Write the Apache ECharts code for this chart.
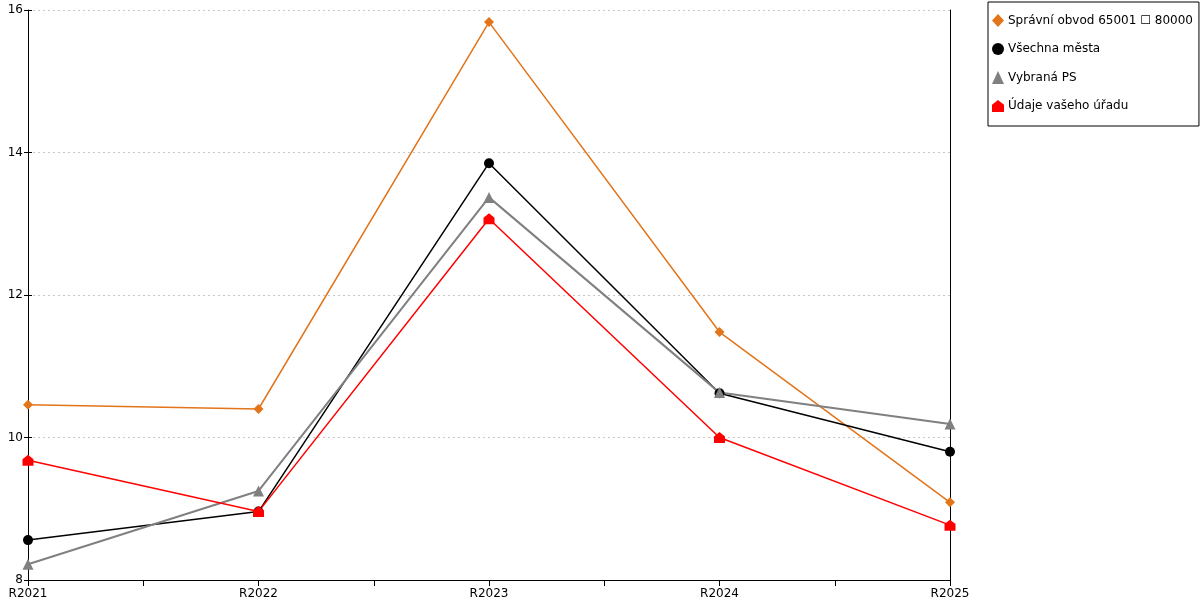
<!DOCTYPE html>
<html lang="cs">
<head>
    <meta charset="UTF-8">
    <title>Graf</title>
    <script src="https://cdn.jsdelivr.net/npm/echarts@6.0.0/dist/echarts.min.js"></script>
    <style>
        body { margin: 0; background: #fff; }
        #chart { width: 1200px; height: 600px; }
    </style>
</head>
<body>
    <div id="chart"></div>
    <script>
        // kategorie a hodnoty
        const years = ['R2021', 'R2022', 'R2023', 'R2024', 'R2025'];
        const obvod = [10.46, 10.40, 15.83, 11.48, 9.09];
        const vsechnaMesta = [8.56, 8.96, 13.85, 10.62, 9.80];
        const vybranaPS = [8.22, 9.25, 13.37, 10.63, 10.19];
        const vasUrad = [9.68, 8.96, 13.07, 10.00, 8.77];
        const yTicks = [8, 10, 12, 14, 16];

        const houseIcon = 'path://M0,4 L5,0 L10,4 L10,10 L0,10 Z';
        const font = 'DejaVu Sans';

        const chart = echarts.init(document.getElementById('chart'));

        function line(name, data, color, symbol, size, width) {
            return {
                name: name,
                type: 'line',
                data: data,
                xAxisIndex: 0,
                yAxisIndex: 0,
                symbol: symbol,
                symbolSize: size,
                showAllSymbol: true,
                lineStyle: { color: color, width: width },
                itemStyle: { color: color },
                emphasis: { disabled: true },
                animation: false
            };
        }

        const option = {
            backgroundColor: '#fff',
            animation: false,
            grid: { left: 28, right: 250, top: 10, bottom: 20, containLabel: false },
            legend: {
                orient: 'vertical',
                left: 988,
                top: 2,
                padding: [12, 6, 14, 4],
                itemGap: 16,
                itemWidth: 12,
                itemHeight: 13,
                borderColor: '#000',
                borderWidth: 1,
                backgroundColor: '#fff',
                textStyle: { fontFamily: font, fontSize: 12, color: '#000', padding: [0, 0, 0, -1] },
                data: [
                    { name: 'Správní obvod 65001 \u2610 80000', icon: 'diamond' },
                    { name: 'Všechna města', icon: 'circle' },
                    { name: 'Vybraná PS', icon: 'triangle' },
                    { name: 'Údaje vašeho úřadu', icon: houseIcon }
                ]
            },
            xAxis: [
                {
                    type: 'category',
                    data: years,
                    boundaryGap: false,
                    axisLine: { lineStyle: { color: '#000', width: 1 } },
                    axisTick: { show: false },
                    axisLabel: { fontFamily: font, fontSize: 12, color: '#000', margin: 8 },
                    splitLine: { show: false }
                },
                {
                    // pomocna osa jen pro znacky mezi roky
                    type: 'value',
                    position: 'bottom',
                    min: 0,
                    max: 4,
                    interval: 0.5,
                    axisLine: { show: false },
                    axisTick: { show: true, length: 6, lineStyle: { color: '#000' } },
                    axisLabel: { show: false },
                    splitLine: { show: false }
                }
            ],
            yAxis: [
                {
                    type: 'value',
                    min: 8,
                    max: 16,
                    interval: 2,
                    axisLine: { show: true, lineStyle: { color: '#000', width: 1 } },
                    axisTick: { show: true, length: 4, lineStyle: { color: '#000' } },
                    axisLabel: {
                        fontFamily: font, fontSize: 12, color: '#000', margin: 5,
                        customValues: yTicks
                    },
                    splitLine: { show: true, lineStyle: { color: '#c8c8c8', type: [2, 3], width: 1 } }
                },
                {
                    type: 'value',
                    position: 'right',
                    min: 8,
                    max: 16,
                    interval: 2,
                    axisLine: { show: true, lineStyle: { color: '#000', width: 1 } },
                    axisTick: { show: false },
                    axisLabel: { show: false },
                    splitLine: { show: false }
                },
                {
                    // vnitrni cast znacek na leve ose
                    type: 'value',
                    position: 'left',
                    offset: 0,
                    min: 8,
                    max: 16,
                    interval: 2,
                    axisLine: { show: false },
                    axisTick: { show: true, inside: true, length: 4, lineStyle: { color: '#000' } },
                    axisLabel: { show: false },
                    splitLine: { show: false }
                }
            ],
            series: [
                line('Správní obvod 65001 \u2610 80000', obvod, '#E2741A', 'diamond', 10, 1.5),
                line('Všechna města', vsechnaMesta, '#000000', 'circle', 10, 1.5),
                line('Vybraná PS', vybranaPS, '#808080', 'triangle', 11, 2),
                line('Údaje vašeho úřadu', vasUrad, '#ff0000', houseIcon, 11, 1.5)
            ]
        };

        chart.setOption(option);
    </script>
</body>
</html>
